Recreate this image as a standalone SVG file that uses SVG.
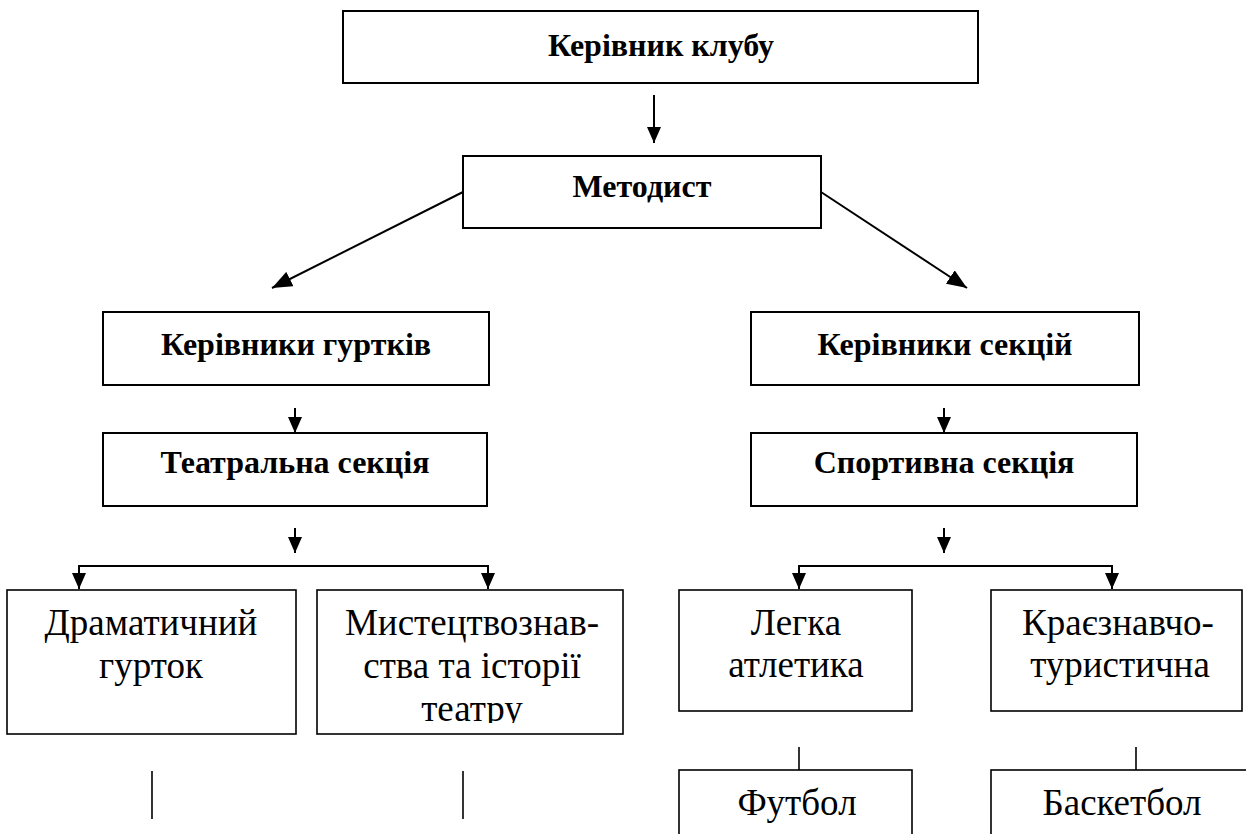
<svg xmlns="http://www.w3.org/2000/svg" width="1246" height="834" viewBox="0 0 1246 834">
<style>
.box{fill:#fff;stroke:#000;stroke-width:2}
.box2{fill:#fff;stroke:#000;stroke-width:1.6}
.hd{font-family:'Liberation Serif','DejaVu Serif',serif;font-weight:bold;font-size:32px;text-anchor:middle;fill:#000}
.tx{font-family:'Liberation Serif','DejaVu Serif',serif;font-size:37px;text-anchor:middle;fill:#000}
.ln{stroke:#000;stroke-width:2;fill:none}
.ln2{stroke:#000;stroke-width:1.6;fill:none}
</style>
<defs>
<marker id="ah" markerUnits="userSpaceOnUse" markerWidth="20" markerHeight="16" viewBox="0 0 20 16" refX="20" refY="8" orient="auto">
<path d="M0,0 L20,8 L0,16 z" fill="#000"/>
</marker>
<marker id="as" markerUnits="userSpaceOnUse" markerWidth="16" markerHeight="14" viewBox="0 0 16 14" refX="16" refY="7" orient="auto">
<path d="M0,0 L16,7 L0,14 z" fill="#000"/>
</marker>
<clipPath id="clipM"><rect x="317" y="590" width="306" height="133"/></clipPath>
</defs>
<rect width="1246" height="834" fill="#fff"/>

<g id="connectors">
<line class="ln" x1="654" y1="95" x2="654" y2="143" marker-end="url(#as)"/>
<line class="ln" x1="463" y1="192" x2="272" y2="288" marker-end="url(#ah)"/>
<line class="ln" x1="821" y1="192" x2="967" y2="288" marker-end="url(#ah)"/>
<line class="ln" x1="295" y1="408" x2="295" y2="433" marker-end="url(#as)"/>
<line class="ln" x1="944" y1="408" x2="944" y2="433" marker-end="url(#as)"/>
<line class="ln" x1="295" y1="528" x2="295" y2="553" marker-end="url(#as)"/>
<line class="ln" x1="944" y1="528" x2="944" y2="553" marker-end="url(#as)"/>
<polyline class="ln" points="79,589 79,566 488,566 488,589"/>
<line class="ln" x1="79" y1="575" x2="79" y2="589" marker-end="url(#as)"/>
<line class="ln" x1="488" y1="575" x2="488" y2="589" marker-end="url(#as)"/>
<polyline class="ln" points="799,589 799,566 1112,566 1112,589"/>
<line class="ln" x1="799" y1="575" x2="799" y2="589" marker-end="url(#as)"/>
<line class="ln" x1="1112" y1="575" x2="1112" y2="589" marker-end="url(#as)"/>
<line class="ln2" x1="152" y1="771" x2="152" y2="819"/>
<line class="ln2" x1="463" y1="771" x2="463" y2="819"/>
<line class="ln2" x1="799" y1="747" x2="799" y2="770"/>
<line class="ln2" x1="1136" y1="747" x2="1136" y2="770"/>
</g>

<g id="n-kerivnyk-klubu">
<rect class="box" x="343" y="11" width="635" height="72"/>
<text class="hd" x="661" y="56">Керівник клубу</text>
</g>
<g id="n-metodyst">
<rect class="box" x="463" y="156" width="358" height="72"/>
<text class="hd" x="642" y="197">Методист</text>
</g>
<g id="n-kerivnyky-hurtkiv">
<rect class="box" x="103" y="312" width="386" height="73"/>
<text class="hd" x="296" y="355">Керівники гуртків</text>
</g>
<g id="n-kerivnyky-sektsii">
<rect class="box" x="751" y="312" width="388" height="73"/>
<text class="hd" x="945" y="355">Керівники секцій</text>
</g>
<g id="n-teatralna">
<rect class="box" x="103" y="433" width="384" height="73"/>
<text class="hd" x="295" y="473">Театральна секція</text>
</g>
<g id="n-sportyvna">
<rect class="box" x="751" y="433" width="386" height="73"/>
<text class="hd" x="944" y="473">Спортивна секція</text>
</g>
<g id="n-dramatychnyi">
<rect class="box2" x="7" y="590" width="289" height="144"/>
<text class="tx" x="151" y="635">Драматичний</text>
<text class="tx" x="151" y="678">гурток</text>
</g>
<g id="n-mystetstvo">
<rect class="box2" x="317" y="590" width="306" height="144"/>
<g clip-path="url(#clipM)">
<text class="tx" x="472" y="635">Мистецтвознав-</text>
<text class="tx" x="472" y="678">ства та історії</text>
<text class="tx" x="472" y="721">театру</text>
</g>
</g>
<g id="n-lehka">
<rect class="box2" x="679" y="590" width="233" height="121"/>
<text class="tx" x="796" y="635">Легка</text>
<text class="tx" x="796" y="677">атлетика</text>
</g>
<g id="n-kraieznavcho">
<rect class="box2" x="991" y="590" width="251" height="121"/>
<text class="tx" x="1118" y="635">Краєзнавчо-</text>
<text class="tx" x="1120" y="677">туристична</text>
</g>
<g id="n-futbol">
<rect class="box2" x="679" y="770" width="233" height="100"/>
<text class="tx" x="797" y="815">Футбол</text>
</g>
<g id="n-basketbol">
<rect class="box2" x="991" y="770" width="264" height="100"/>
<text class="tx" x="1122" y="815">Баскетбол</text>
</g>
</svg>
